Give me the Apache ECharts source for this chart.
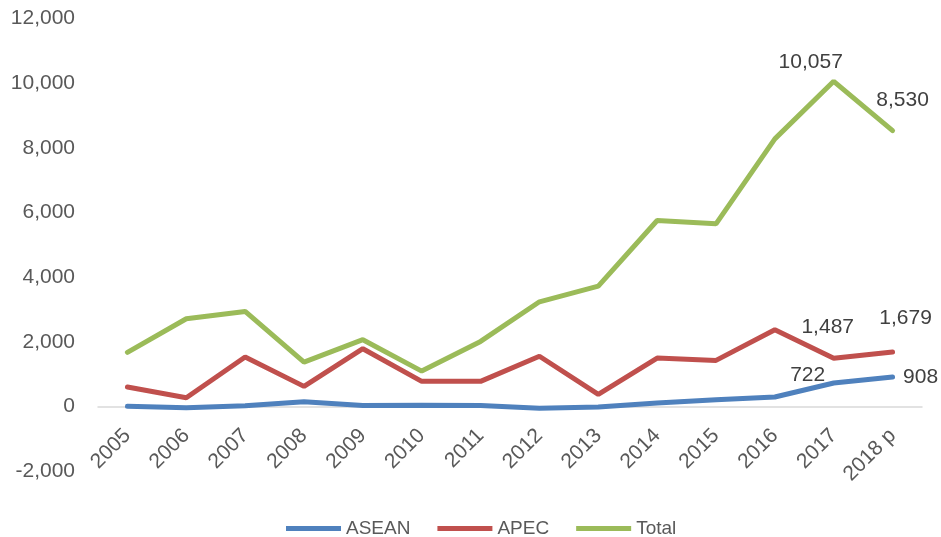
<!DOCTYPE html>
<html>
<head>
<meta charset="utf-8">
<script src="https://cdn.jsdelivr.net/npm/echarts@6/dist/echarts.min.js"></script>
<style>
  html, body { margin: 0; padding: 0; background: #fff; }
  #main { width: 941px; height: 537px; }
</style>
</head>
<body>
<div id="main"></div>
<script>
// data
var years = ['2005', '2006', '2007', '2008', '2009', '2010', '2011', '2012', '2013', '2014', '2015', '2016', '2017', '2018 p'];
var asean = [0, -40, 20, 145, 30, 35, 30, -60, -20, 103, 206, 288, 722, 908];
var apec = [600, 268, 1525, 618, 1783, 773, 773, 1550, 371, 1494, 1422, 2371, 1487, 1679];
var total = [1670, 2711, 2937, 1370, 2062, 1091, 2009, 3235, 3719, 5750, 5647, 8275, 10057, 8530];
var yTicks = { min: -2000, max: 12000, step: 2000 };

var fmt = function (v) { return Number(v).toLocaleString('en-US'); };

var gridTop = 18.5, gridBottom = 66, height = 537;
// x axis sits on the zero line: shift it up from the grid bottom
var zeroShift = (height - gridTop - gridBottom) * (0 - yTicks.min) / (yTicks.max - yTicks.min);

// labels only on the last two points, placed like the original
var labelStyle = { show: true, fontSize: 21, color: '#404040', fontFamily: 'Liberation Sans', formatter: function (p) { return fmt(p.value); } };
function withLabels(values, places) {
    return values.map(function (v, i) {
        var place = places[i - (values.length - 2)];
        if (!place) return v;
        return { value: v, label: Object.assign({}, labelStyle, place) };
    });
}

function lineSeries(name, color, values, places) {
    return {
        name: name,
        type: 'line',
        symbol: 'circle',
        symbolSize: 1,
        showSymbol: true,
        lineStyle: { width: 5, color: color, cap: 'round' },
        itemStyle: { color: color },
        data: withLabels(values, places)
    };
}

var chart = echarts.init(document.getElementById('main'));
chart.setOption({
    animation: false,
    textStyle: { fontFamily: 'Liberation Sans' },
    grid: { left: 98, right: 19, top: gridTop, bottom: gridBottom },
    legend: {
        data: ['ASEAN', 'APEC', 'Total'],
        top: 514,
        left: 281,
        itemWidth: 55,
        itemHeight: 5,
        itemGap: 27,
        icon: 'rect',
        textStyle: { fontSize: 19, color: '#595959' }
    },
    xAxis: {
        type: 'category',
        data: years,
        boundaryGap: true,
        offset: -zeroShift,
        axisLine: { onZero: false, lineStyle: { color: '#D9D9D9', width: 1.5 } },
        axisTick: { show: false },
        axisLabel: { rotate: 45, fontSize: 21, color: '#595959', margin: 26, interval: 0 }
    },
    yAxis: {
        type: 'value',
        min: yTicks.min,
        max: yTicks.max,
        interval: yTicks.step,
        axisLine: { show: false },
        axisTick: { show: false },
        splitLine: { show: false },
        axisLabel: { fontSize: 21, color: '#595959', margin: 23, formatter: fmt }
    },
    series: [
        lineSeries('ASEAN', '#4F81BD', asean, [
            { position: 'top', offset: [-26, 8] },
            { position: 'right', distance: 10 }
        ]),
        lineSeries('APEC', '#C0504D', apec, [
            { position: 'top', offset: [-6, -15] },
            { position: 'top', offset: [13, -18] }
        ]),
        lineSeries('Total', '#9BBB59', total, [
            { position: 'top', offset: [-23, -3] },
            { position: 'top', offset: [10, -14] }
        ])
    ]
});
</script>
</body>
</html>
